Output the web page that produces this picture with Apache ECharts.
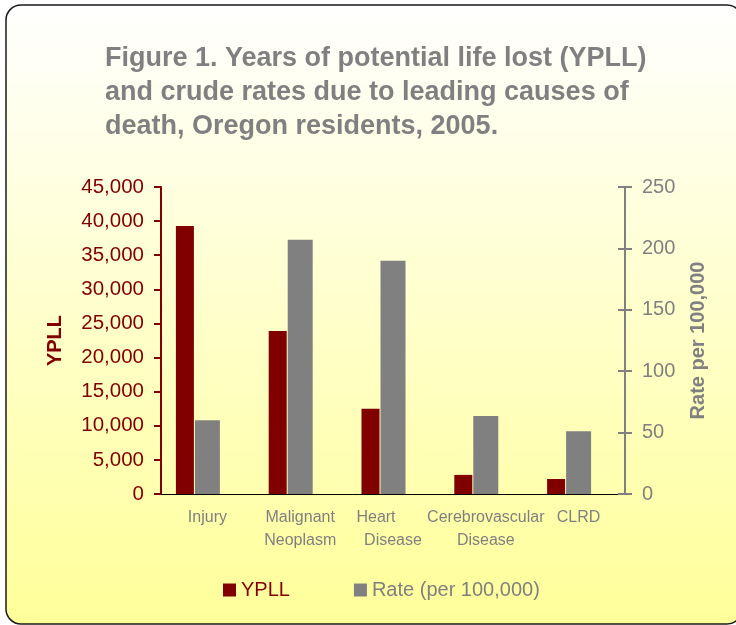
<!DOCTYPE html>
<html>
<head>
<meta charset="utf-8">
<script src="https://cdn.jsdelivr.net/npm/echarts@6/dist/echarts.min.js"></script>
<style>
html,body{margin:0;padding:0;background:#fff;}
#c{width:736px;height:625px;}
</style>
</head>
<body>
<div id="c"></div>
<script>
var categories = ['Injury', 'Malignant\nNeoplasm', 'Heart\nDisease', 'Cerebrovascular\nDisease', 'CLRD'];
var ypll = [39300, 23900, 12500, 2800, 2200];
var rate = [60, 207, 190, 63.5, 51];
var ypllTicks = [0, 5000, 10000, 15000, 20000, 25000, 30000, 35000, 40000, 45000];
var rateTicks = [0, 50, 100, 150, 200, 250];

var FONT = '"Liberation Sans", Arial, sans-serif';
var RED = '#800000', GRAY = '#808080';

var chart = echarts.init(document.getElementById('c'), null, {renderer: 'canvas'});

var catLabel = {
  interval: 0, margin: 12, color: GRAY, fontSize: 16, fontFamily: FONT, lineHeight: 23,
  formatter: function (v) {
    if (v === 'Heart\nDisease') return '{h|Heart}\n{n|Disease}';
    return v;
  },
  rich: {
    h: {color: GRAY, fontSize: 16, fontFamily: FONT, lineHeight: 23, padding: [0, 34, 0, 0]},
    n: {color: GRAY, fontSize: 16, fontFamily: FONT, lineHeight: 23}
  }
};

chart.setOption({
  animation: false,
  backgroundColor: 'transparent',
  graphic: [{
    type: 'rect', z: -10, silent: true,
    shape: {x: 6, y: 5, width: 736, height: 619, r: 15},
    style: {
      fill: new echarts.graphic.LinearGradient(0, 0, 0, 1, [
        {offset: 0, color: '#FFFFFF'},
        {offset: 0.45, color: '#FFFFD0'},
        {offset: 1, color: '#FFFF99'}
      ]),
      stroke: '#1a1a1a', lineWidth: 1.5
    }
  }],
  title: {
    text: 'Figure 1. Years of potential life lost (YPLL)\nand crude rates due to leading causes of\ndeath, Oregon residents, 2005.',
    left: 100, top: 37,
    textStyle: {color: GRAY, fontSize: 27, fontWeight: 'bold', fontFamily: FONT, lineHeight: 34}
  },
  legend: {
    left: 218, top: 575, icon: 'rect', itemWidth: 13, itemHeight: 13, itemGap: 64,
    textStyle: {fontSize: 20, fontFamily: FONT},
    data: [
      {name: 'YPLL', textStyle: {color: RED}},
      {name: 'Rate (per 100,000)', textStyle: {color: GRAY}}
    ]
  },
  grid: [
    {left: 161, right: 111, top: 187, bottom: 131},
    {left: 138.5, right: 133.5, top: 187, bottom: 131}
  ],
  xAxis: [{
    type: 'category', gridIndex: 0, data: categories,
    axisLine: {lineStyle: {color: '#000', width: 1}},
    axisTick: {length: 5, lineStyle: {color: '#000'}},
    axisLabel: catLabel
  }, {
    type: 'category', gridIndex: 1, data: categories, show: false
  }],
  yAxis: [{
    type: 'value', gridIndex: 0, position: 'left', min: 0, max: 45000, interval: 5000,
    name: 'YPLL', nameLocation: 'middle', nameRotate: 90, nameGap: 96,
    nameTextStyle: {color: RED, fontSize: 20, fontWeight: 'bold', fontFamily: FONT},
    axisLine: {show: true, lineStyle: {color: RED, width: 2}},
    axisTick: {show: true, length: 7, lineStyle: {color: RED, width: 2}},
    splitLine: {show: false},
    axisLabel: {color: RED, fontSize: 20.5, fontFamily: FONT, margin: 17,
      formatter: function (v) { return v.toLocaleString('en-US'); }}
  }, {
    type: 'value', gridIndex: 0, position: 'right', min: 0, max: 250, interval: 50,
    name: 'Rate per 100,000', nameLocation: 'middle', nameRotate: 90, nameGap: 63,
    nameTextStyle: {color: GRAY, fontSize: 20, fontWeight: 'bold', fontFamily: FONT},
    axisLine: {show: true, lineStyle: {color: GRAY, width: 2}},
    axisTick: {show: true, length: 7, lineStyle: {color: GRAY, width: 2}},
    splitLine: {show: false},
    axisLabel: {color: GRAY, fontSize: 20, fontFamily: FONT, margin: 17}
  }, {
    type: 'value', gridIndex: 0, position: 'right', min: 0, max: 250, interval: 50,
    axisLine: {show: false},
    axisTick: {show: true, inside: true, length: 7, lineStyle: {color: GRAY, width: 2}},
    axisLabel: {show: false}, splitLine: {show: false}
  }, {
    type: 'value', gridIndex: 1, min: 0, max: 45000, interval: 5000, show: false,
    splitLine: {show: false}
  }],
  series: [{
    name: 'YPLL', type: 'bar', xAxisIndex: 1, yAxisIndex: 3, data: ypll,
    barWidth: 18, itemStyle: {color: RED}, z: 2
  }, {
    name: 'Rate (per 100,000)', type: 'bar', xAxisIndex: 0, yAxisIndex: 1, data: rate,
    barWidth: 25, itemStyle: {color: GRAY}, z: 3
  }]
});
</script>
</body>
</html>
